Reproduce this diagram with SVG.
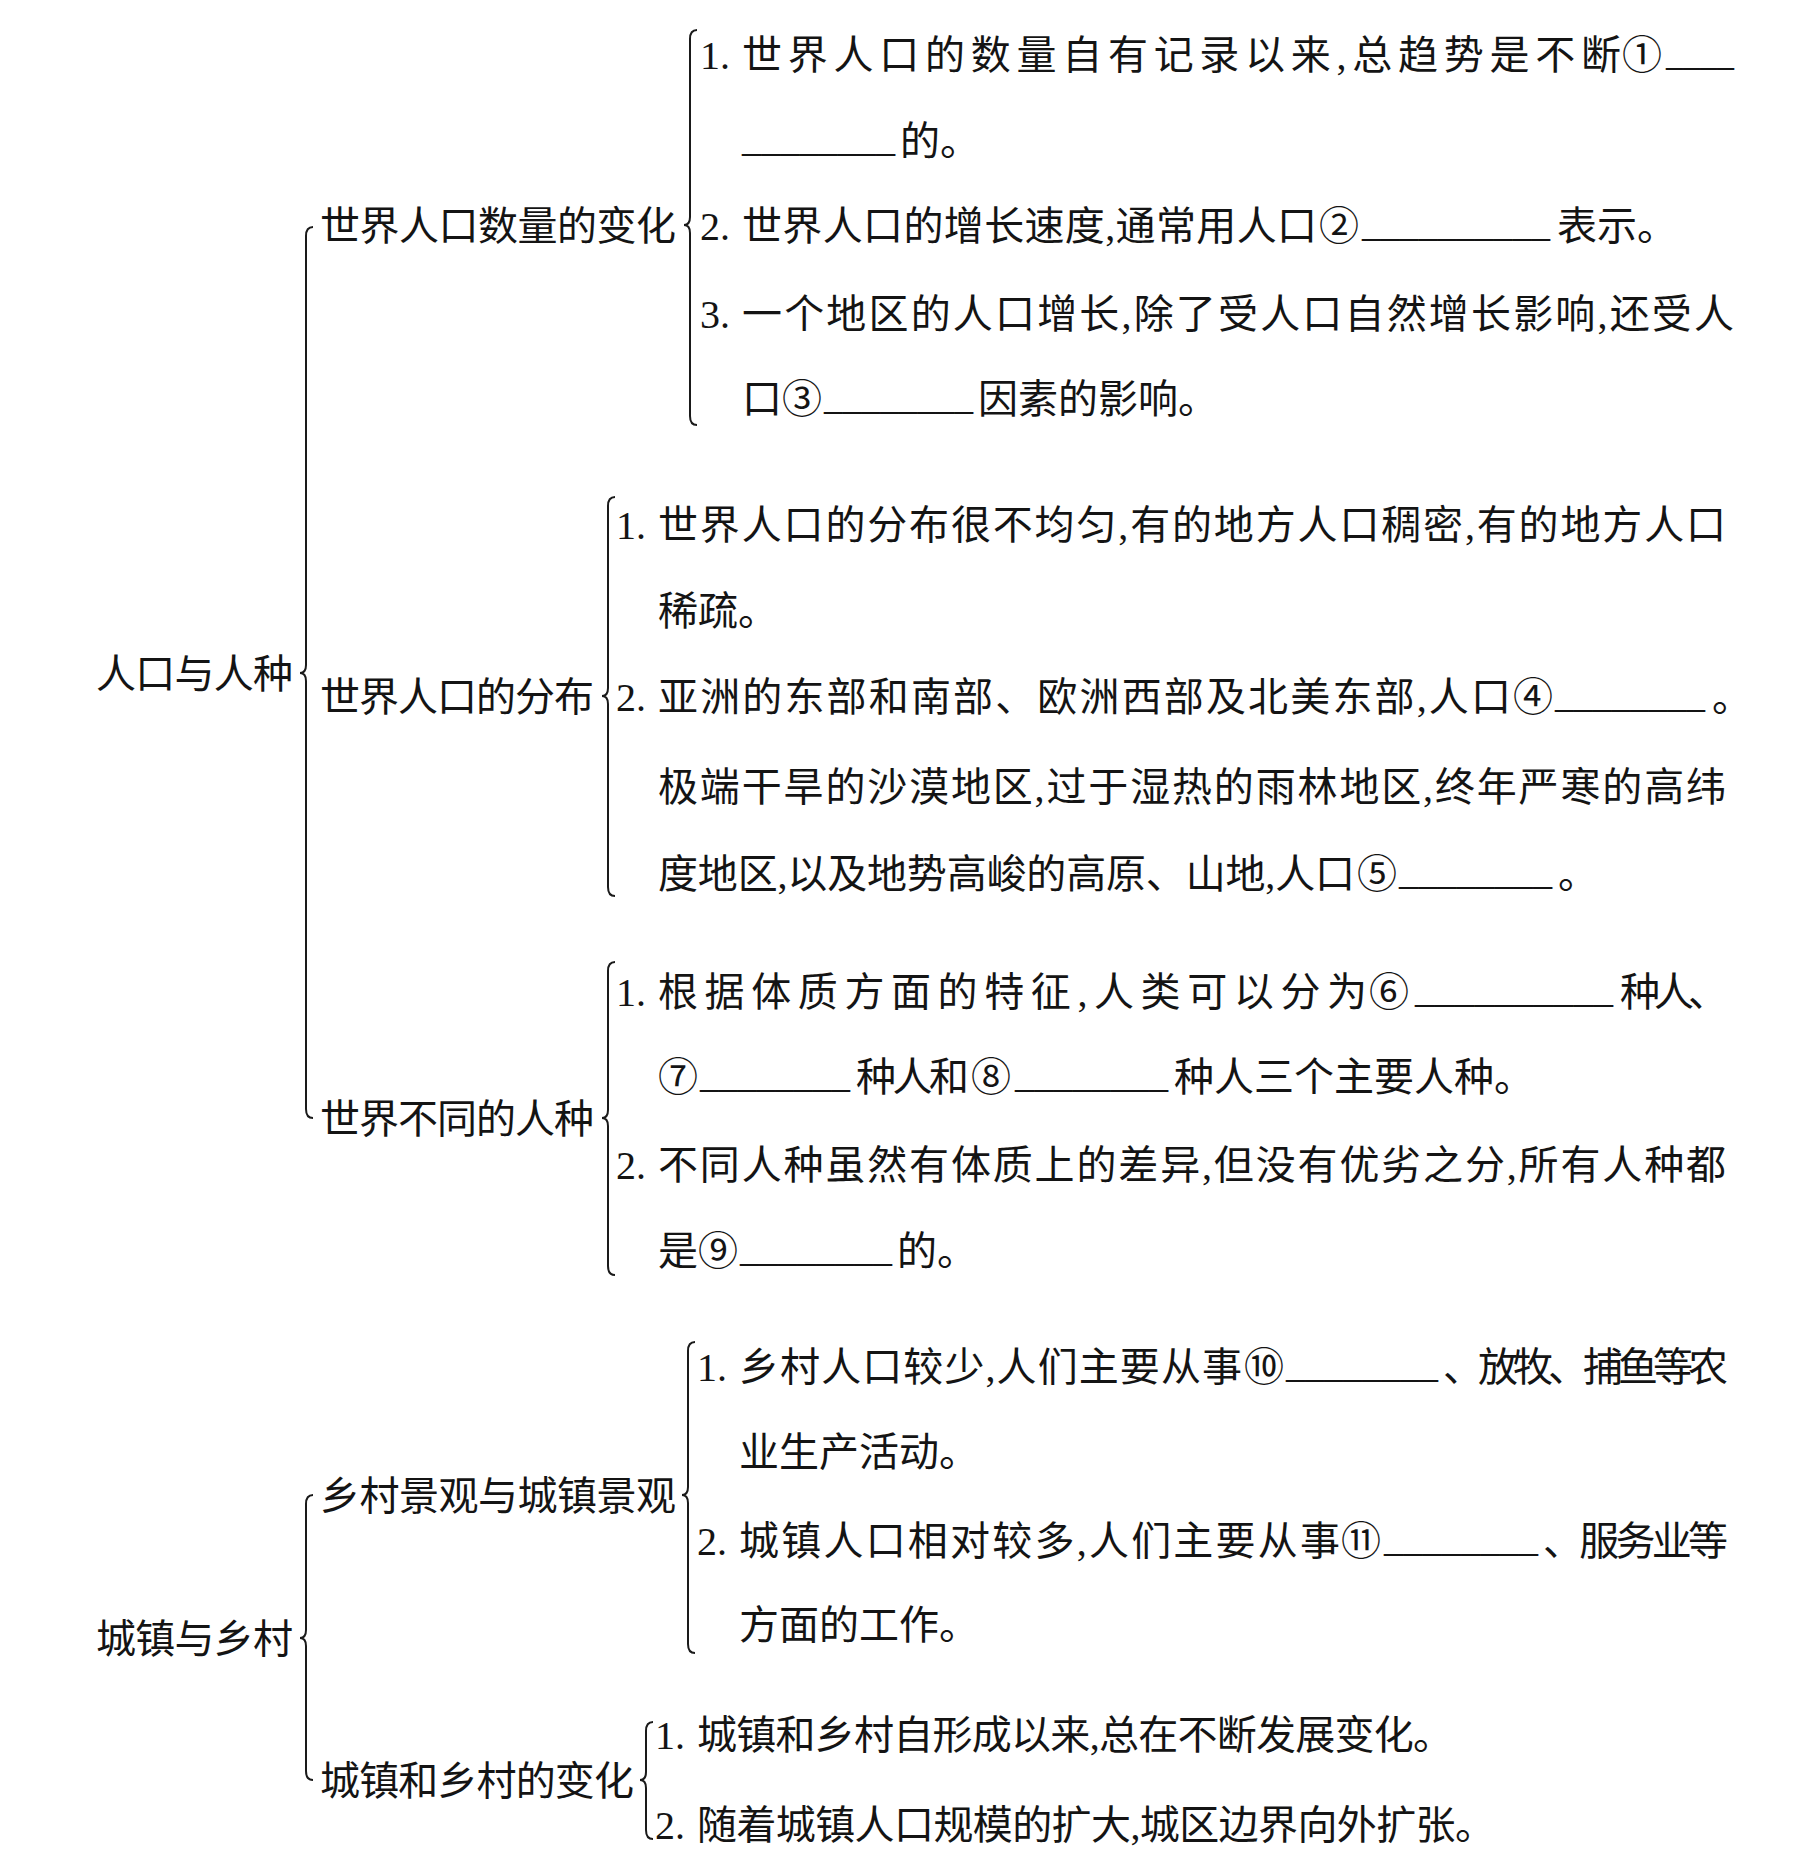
<svg xmlns="http://www.w3.org/2000/svg" width="1800" height="1875" viewBox="0 0 1800 1875">
<style>
.t{font-family:"Liberation Serif","Noto Sans CJK SC",serif;font-size:40px;fill:#141414}
.u{font-family:"Liberation Serif",serif;font-size:40px;fill:#141414}
.b{fill:none;stroke:#1a1a1a;stroke-width:2}
</style>
<rect width="1800" height="1875" fill="#fff"/>
<g id="connectors">
<path class="b" d="M313,227 Q306,227 306,236 L306,665 Q306,673 300,673 Q306,673 306,681 L306,1109 Q306,1118 313,1118"/>
<path class="b" d="M313,1495 Q306,1495 306,1504 L306,1630 Q306,1638 300,1638 Q306,1638 306,1646 L306,1771 Q306,1780 313,1780"/>
<path class="b" d="M697,30 Q690,30 690,39 L690,217 Q690,225 684,225 Q690,225 690,233 L690,416 Q690,425 697,425"/>
<path class="b" d="M615,497 Q608,497 608,506 L608,688 Q608,696 602,696 Q608,696 608,704 L608,887 Q608,896 615,896"/>
<path class="b" d="M615,962 Q608,962 608,971 L608,1110 Q608,1118 602,1118 Q608,1118 608,1126 L608,1266 Q608,1275 615,1275"/>
<path class="b" d="M695,1342 Q688,1342 688,1351 L688,1487 Q688,1495 682,1495 Q688,1495 688,1503 L688,1644 Q688,1653 695,1653"/>
<path class="b" d="M653,1722 Q646,1722 646,1731 L646,1772 Q646,1780 640,1780 Q646,1780 646,1788 L646,1830 Q646,1839 653,1839"/>
</g>
<g id="root-population">
<text class="t" x="96" y="688" textLength="197" lengthAdjust="spacing">人口与人种</text>
</g>
<g id="branch-quantity">
<text class="t" x="320" y="240" textLength="356" lengthAdjust="spacing">世界人口数量的变化</text>
</g>
<g id="items-quantity">
<text class="t" x="700" y="69">1.</text>
<text class="t" x="742" y="69" textLength="879" lengthAdjust="spacing">世界人口的数量自有记录以来,总趋势是不断</text>
<text class="t" x="1622" y="69">①</text>
<text class="u" x="1666" y="65" textLength="68" lengthAdjust="spacingAndGlyphs">____</text>
<text class="u" x="742" y="151" textLength="153" lengthAdjust="spacingAndGlyphs">________</text>
<text class="t" x="900" y="155">的。</text>
<text class="t" x="700" y="240">2.</text>
<text class="t" x="742" y="240" textLength="575" lengthAdjust="spacing">世界人口的增长速度,通常用人口</text>
<text class="t" x="1319" y="240">②</text>
<text class="u" x="1362" y="236" textLength="188" lengthAdjust="spacingAndGlyphs">__________</text>
<text class="t" x="1557" y="240">表示。</text>
<text class="t" x="700" y="328">3.</text>
<text class="t" x="742" y="328" textLength="992" lengthAdjust="spacing">一个地区的人口增长,除了受人口自然增长影响,还受人</text>
<text class="t" x="742" y="413">口③</text>
<text class="u" x="824" y="409" textLength="149" lengthAdjust="spacingAndGlyphs">________</text>
<text class="t" x="978" y="413">因素的影响。</text>
</g>
<g id="branch-distribution">
<text class="t" x="320" y="711" textLength="274" lengthAdjust="spacing">世界人口的分布</text>
</g>
<g id="items-distribution">
<text class="t" x="616" y="539">1.</text>
<text class="t" x="658" y="539" textLength="1068" lengthAdjust="spacing">世界人口的分布很不均匀,有的地方人口稠密,有的地方人口</text>
<text class="t" x="658" y="625">稀疏。</text>
<text class="t" x="616" y="711">2.</text>
<text class="t" x="658" y="711" textLength="853" lengthAdjust="spacing">亚洲的东部和南部、欧洲西部及北美东部,人口</text>
<text class="t" x="1513" y="711">④</text>
<text class="u" x="1555" y="707" textLength="150" lengthAdjust="spacingAndGlyphs">________</text>
<text class="t" x="1712" y="711">。</text>
<text class="t" x="658" y="801" textLength="1068" lengthAdjust="spacing">极端干旱的沙漠地区,过于湿热的雨林地区,终年严寒的高纬</text>
<text class="t" x="658" y="888" textLength="697" lengthAdjust="spacing">度地区,以及地势高峻的高原、山地,人口</text>
<text class="t" x="1357" y="888">⑤</text>
<text class="u" x="1399" y="884" textLength="153" lengthAdjust="spacingAndGlyphs">________</text>
<text class="t" x="1558" y="888">。</text>
</g>
<g id="branch-races">
<text class="t" x="320" y="1133" textLength="274" lengthAdjust="spacing">世界不同的人种</text>
</g>
<g id="items-races">
<text class="t" x="616" y="1006">1.</text>
<text class="t" x="658" y="1006" textLength="709" lengthAdjust="spacing">根据体质方面的特征,人类可以分为</text>
<text class="t" x="1369" y="1006">⑥</text>
<text class="u" x="1415" y="1002" textLength="198" lengthAdjust="spacingAndGlyphs">__________</text>
<text class="t" x="1620" y="1006" textLength="108" lengthAdjust="spacing">种人、</text>
<text class="t" x="658" y="1091">⑦</text>
<text class="u" x="700" y="1087" textLength="150" lengthAdjust="spacingAndGlyphs">________</text>
<text class="t" x="856" y="1091" textLength="113" lengthAdjust="spacing">种人和</text>
<text class="t" x="971" y="1091">⑧</text>
<text class="u" x="1015" y="1087" textLength="153" lengthAdjust="spacingAndGlyphs">________</text>
<text class="t" x="1174" y="1091">种人三个主要人种。</text>
<text class="t" x="616" y="1179">2.</text>
<text class="t" x="658" y="1179" textLength="1068" lengthAdjust="spacing">不同人种虽然有体质上的差异,但没有优劣之分,所有人种都</text>
<text class="t" x="658" y="1265">是⑨</text>
<text class="u" x="740" y="1261" textLength="152" lengthAdjust="spacingAndGlyphs">________</text>
<text class="t" x="897" y="1265">的。</text>
</g>
<g id="root-urban">
<text class="t" x="96" y="1653" textLength="197" lengthAdjust="spacing">城镇与乡村</text>
</g>
<g id="branch-landscape">
<text class="t" x="320" y="1510" textLength="356" lengthAdjust="spacing">乡村景观与城镇景观</text>
</g>
<g id="items-landscape">
<text class="t" x="697" y="1381">1.</text>
<text class="t" x="739" y="1381" textLength="503" lengthAdjust="spacing">乡村人口较少,人们主要从事</text>
<text class="t" x="1244" y="1381">⑩</text>
<text class="u" x="1286" y="1377" textLength="152" lengthAdjust="spacingAndGlyphs">________</text>
<text class="t" x="1443" y="1381" textLength="285" lengthAdjust="spacing">、放牧、捕鱼等农</text>
<text class="t" x="739" y="1466">业生产活动。</text>
<text class="t" x="697" y="1555">2.</text>
<text class="t" x="739" y="1555" textLength="601" lengthAdjust="spacing">城镇人口相对较多,人们主要从事</text>
<text class="t" x="1341" y="1555">⑪</text>
<text class="u" x="1384" y="1551" textLength="154" lengthAdjust="spacingAndGlyphs">________</text>
<text class="t" x="1543" y="1555" textLength="185" lengthAdjust="spacing">、服务业等</text>
<text class="t" x="739" y="1639">方面的工作。</text>
</g>
<g id="branch-change">
<text class="t" x="320" y="1795" textLength="314" lengthAdjust="spacing">城镇和乡村的变化</text>
</g>
<g id="items-change">
<text class="t" x="655" y="1749">1.</text>
<text class="t" x="697" y="1749" textLength="756" lengthAdjust="spacing">城镇和乡村自形成以来,总在不断发展变化。</text>
<text class="t" x="655" y="1839">2.</text>
<text class="t" x="697" y="1839" textLength="798" lengthAdjust="spacing">随着城镇人口规模的扩大,城区边界向外扩张。</text>
</g>
</svg>
